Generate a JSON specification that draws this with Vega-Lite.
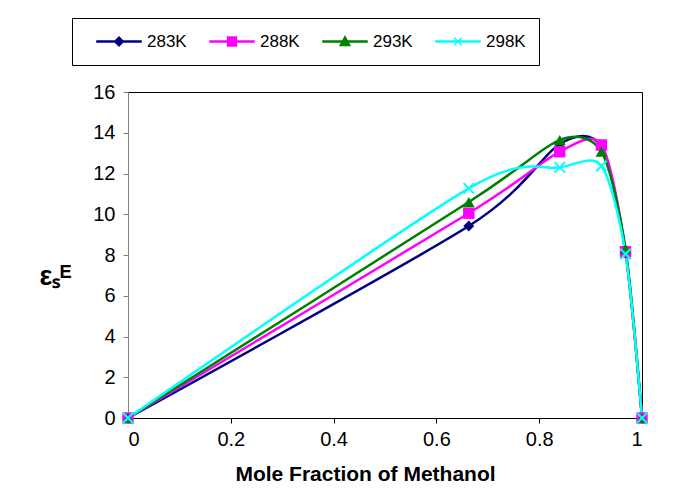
{
  "$schema": "https://vega.github.io/schema/vega-lite/v6.json",
  "autosize": {"type": "none"},
  "width": 514,
  "height": 326,
  "padding": {"left": 128, "top": 92, "right": 40, "bottom": 83},
  "background": "white",
  "config": {
    "font": "Liberation Sans",
    "view": {"stroke": "#000000", "strokeWidth": 1}
  },
  "data": {
    "values": [
      {"x": 0, "t": "283K", "y": 0},
      {"x": 0.663, "t": "283K", "y": 9.42},
      {"x": 0.84, "t": "283K", "y": 13.45},
      {"x": 0.921, "t": "283K", "y": 13.3},
      {"x": 0.968, "t": "283K", "y": 8.1},
      {"x": 1, "t": "283K", "y": 0},
      {"x": 0, "t": "288K", "y": 0},
      {"x": 0.663, "t": "288K", "y": 10.05},
      {"x": 0.84, "t": "288K", "y": 13.07},
      {"x": 0.921, "t": "288K", "y": 13.4},
      {"x": 0.968, "t": "288K", "y": 8.16},
      {"x": 1, "t": "288K", "y": 0},
      {"x": 0, "t": "293K", "y": 0},
      {"x": 0.663, "t": "293K", "y": 10.6},
      {"x": 0.84, "t": "293K", "y": 13.64},
      {"x": 0.921, "t": "293K", "y": 13.07},
      {"x": 0.968, "t": "293K", "y": 8.3},
      {"x": 1, "t": "293K", "y": 0},
      {"x": 0, "t": "298K", "y": 0},
      {"x": 0.663, "t": "298K", "y": 11.27},
      {"x": 0.84, "t": "298K", "y": 12.3},
      {"x": 0.921, "t": "298K", "y": 12.37},
      {"x": 0.968, "t": "298K", "y": 8.05},
      {"x": 1, "t": "298K", "y": 0}
    ]
  },
  "encoding": {
    "x": {
      "field": "x", "type": "quantitative",
      "scale": {"domain": [0, 1], "nice": false, "zero": false},
      "axis": {
        "values": [0, 0.2, 0.4, 0.6, 0.8, 1],
        "format": "~g",
        "grid": false,
        "domainColor": "#000000",
        "tickColor": "#000000",
        "tickSize": 5,
        "labelFontSize": 20,
        "labelColor": "#000000",
        "labelPadding": 6,
        "title": "Mole Fraction of Methanol",
        "titleFontSize": 21,
        "titleFontWeight": "bold",
        "titleColor": "#000000",
        "titleX": 237,
        "titleY": 62,
        "titleBaseline": "alphabetic"
      }
    },
    "y": {
      "field": "y", "type": "quantitative",
      "scale": {"domain": [0, 16], "nice": false},
      "axis": {
        "values": [0, 2, 4, 6, 8, 10, 12, 14, 16],
        "grid": false,
        "domainColor": "#808080",
        "tickColor": "#808080",
        "tickSize": 5,
        "labelFontSize": 20,
        "labelColor": "#000000",
        "labelPadding": 8,
        "title": "εₛᴱ",
        "titleFontSize": 27,
        "titleFontWeight": "bold",
        "titleColor": "#000000",
        "titleAngle": 0,
        "titleAlign": "center",
        "titleBaseline": "middle",
        "titleX": -73,
        "titleY": 184
      }
    },
    "color": {
      "field": "t", "type": "nominal",
      "scale": {"domain": ["283K", "288K", "293K", "298K"], "range": ["#000080", "#FF00FF", "#008000", "#00FFFF"]},
      "legend": null
    }
  },
  "layer": [
    {
      "mark": {"type": "line", "interpolate": "cardinal", "tension": 0.2, "strokeWidth": 2.5},
      "encoding": {
        "color": {
          "field": "t", "type": "nominal",
          "scale": {"domain": ["283K", "288K", "293K", "298K"], "range": ["#000080", "#FF00FF", "#008000", "#00FFFF"]},
          "legend": {
            "title": " ",
            "titleOrient": "left",
            "titlePadding": 11,
            "titleFontSize": 18,
            "orient": "none",
            "direction": "horizontal",
            "legendX": -56,
            "legendY": -74,
            "padding": 13,
            "clipHeight": 21,
            "strokeColor": "#000000",
            "fillColor": "white",
            "columnPadding": 22,
            "labelFontSize": 17,
            "labelColor": "#000000",
            "labelOffset": 5,
            "symbolSize": 1936,
            "encode": {
              "symbols": {
                "update": {
                  "shape": {"signal": "datum.value === '283K' ? 'M-1,-0.02H1V0.02H-1Z M0,-0.2L0.2,0L0,0.2L-0.2,0Z' : datum.value === '288K' ? 'M-1,-0.02H1V0.02H-1Z M-0.2,-0.2H0.2V0.2H-0.2Z' : datum.value === '293K' ? 'M-1,-0.02H1V0.02H-1Z M0,-0.22L0.22,0.18H-0.22Z' : 'M-1,-0.02H1V0.02H-1Z M-0.17,-0.17L0.17,0.17M-0.17,0.17L0.17,-0.17'"},
                  "fill": {"scale": "color", "field": "value"},
                  "stroke": {"scale": "color", "field": "value"},
                  "strokeWidth": {"value": 1.5},
                  "size": {"value": 1936},
                  "opacity": {"value": 1},
                  "fillOpacity": {"value": 1}
                }
              }
            }
          }
        }
      }
    },
    {
      "transform": [{"filter": {"field": "t", "equal": "283K"}}],
      "mark": {"type": "point", "shape": "diamond", "filled": true, "size": 120, "opacity": 1}
    },
    {
      "transform": [{"filter": {"field": "t", "equal": "288K"}}],
      "mark": {"type": "point", "shape": "square", "filled": true, "size": 130, "opacity": 1}
    },
    {
      "transform": [{"filter": {"field": "t", "equal": "293K"}}],
      "mark": {"type": "point", "shape": "triangle-up", "filled": true, "size": 140, "opacity": 1}
    },
    {
      "transform": [{"filter": {"field": "t", "equal": "298K"}}],
      "mark": {"type": "point", "shape": "M-1,-1L1,1M-1,1L1,-1", "filled": false, "size": 110, "opacity": 1, "strokeWidth": 2}
    }
  ]
}
